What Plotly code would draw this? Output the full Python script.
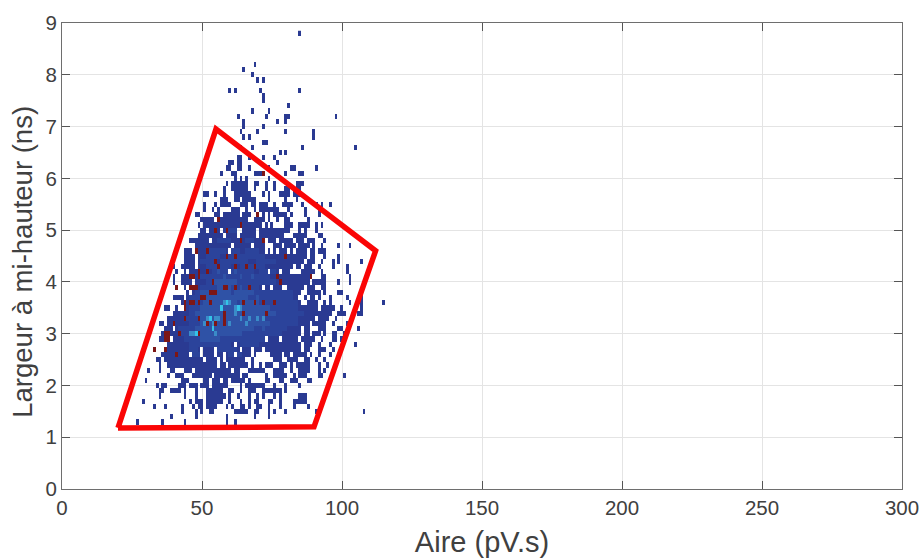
import plotly.graph_objects as go

X_BINS = list(range(20, 118))
Y_BINS = [8.8, 8.2, 8.1, 8.0, 7.9, 7.7, 7.6, 7.5, 7.4, 7.3, 7.2, 7.1, 7.0, 6.9, 6.8, 6.7, 6.6, 6.5, 6.4, 6.3,
          6.2, 6.1, 6.0, 5.9, 5.8, 5.7, 5.6, 5.5, 5.4, 5.3, 5.2, 5.1, 5.0, 4.9, 4.8, 4.7, 4.6, 4.5, 4.4, 4.3,
          4.2, 4.1, 4.0, 3.9, 3.8, 3.7, 3.6, 3.5, 3.4, 3.3, 3.2, 3.1, 3.0, 2.9, 2.8, 2.7, 2.6, 2.5, 2.4, 2.3,
          2.2, 2.1, 2.0, 1.9, 1.8, 1.7, 1.6, 1.5, 1.4, 1.3]
OCCUPIED = [
 "85", "69", "65", "68", "70 72", "60 62 71 85", "72", "72", "81", "68 74",
 "63 73 80-81 98", "65 77 80", "65 72", "64 70 80 90", "65 67 90", "72-73", "64 68 86 105", "78 80", "63-64 67 72 76", "60-61 63-64 77",
 "59-60 63-64 67 74 82-83 91", "57 61-62 69-72 80 85-86", "62 64 66 74", "59 61-66 69-70 73 76 84-86", "58 61-66 69 73 76 80-81 84-85",
 "51-52 55 58 62-67 72 74 78-81 83-85", "57-59 62-63 65-69 74 80 84", "51 55 57-60 64-66 68-69 71-73 76 79-82 86 91 93 96", "51 54 56 61-63 66 69 71-77 81 87 92", "48-49 55-56 58-63 65-67 70 72 74 76-80 82 87 92",
 "50-54 56-66 69-72 74 77-81 88", "49-73 75 78-82 85-88 91 93", "50-54 56-58 59-62 64-69 71-81 85 87 91", "49-57 59-62 64-80 83-87 92-93", "46-71 72 74-76 78-82 84-86 88-90 94",
 "48-49 50-60 62-72 74-83 85-88 90 93 99 103", "44-46 48-72 74-82 84-87 89-90 92-94", "44-47 49-87 89-90 94 99", "44-47 49-86 88-90 93 97 99 107", "40 43-47 49-65 67-85 87-89 92 97 102",
 "41 44 46-59 61-73 75-84 86-90 93 102", "40 43-88 89 93-94 103", "40 43-46 48-88 90-94 99 103", "41 44 46-71 73-74 76-78 81-86 88-90 93-94", "45 47-85 88-92 94 99-100",
 "40-43 45-84 87 89-90 92 96 102 107", "43-85 88-91 94 96 103 107 115", "37-38 41 44-91 93-97 100 107", "40-96 99-101 106-107", "38-90 92-95 98",
 "35-36 38-88 90-94 97 102", "37-39 41-85 87-88 92-94 99-100 106", "36-47 48-85 87-88 90-92 94 97-98 101", "35-38 40-72 74-77 79-84 86-90 93 97-98 100", "38-61 63-85 87-89 92 96 105",
 "33 37-49 51-54 56-63 65-67 69-71 73-85 87-88 92-94 97", "36-49 51-54 56-57 59-67 69-71 75-78 80-81 83-87 89 92 96", "34-35 37-57 59-65 68 72 76-78 81-84 87-88 91 94", "35 38-58 60-68 71-75 78-80 82 84-88 92 95", "31 35 39-40 44-46 48-60 62-64 67-72 76-79 82 85-88 92 94",
 "38 41-43 47-63 65-68 71-73 76-80 83 85-87 92-93 101", "30 43-45 48-52 54-65 67-74 78-79 82-84 88-89", "34 36-37 42-44 46-48 50-60 62-64 66-72 76 80 85", "35-36 39-42 44 48 52-57 60-61 64 67-69 72-74 75-78 80", "35 44 48 52-58 60 63 67 70 72 76 78 85-87",
 "29 46 48-50 52-57 60 64 67 69-70 74-75 78 83-84 85-87", "33 37 43 47 49-50 52-55 59 61 64-65 67 70-71 74 78 83 88", "43 48 50 53-54 62-66 69-70 74 76 80 91 108", "39 48 59 69 74", "27 36 44 59 62",
]
# empty cells read inside the dense part of the cloud
HOLE_Y = [5.2, 5.1, 5.0, 4.9, 4.8, 4.7, 4.6, 4.3, 4.2, 2.8, 2.6, 2.5, 2.4, 2.3, 2.2, 2.1, 2.0]
HOLE_SPANS = ["67 78-79", "50 72 74 76-79", "52 57 63-64", "70 80", "53", "68 74-75 79", "60 75 77 81", "69 83", "60 74 78 82-85",
              "62", "46 58 62 70-72", "51 56 69-72", "56 67 72", "64-66 73", "54 67-72", "48-50 57 60 68-72", "53 60-63"]

MID_Y = [5.0, 4.8, 4.6, 4.5, 4.4, 4.3, 4.2, 4.1, 4.0, 3.9, 3.8, 3.7, 3.6, 3.5, 3.4, 3.3, 3.2, 3.1, 3.0, 2.9, 2.8, 2.7, 2.6]
MID_SPANS = [
 "60-62", "56-60 66-68", "52-58 60-63 66-70", "52-56 60-72", "50-54 57-66 70-76", "52-60 64-72", "54-68 71-76", "50-74",
 "52-76", "50-56 60-70", "48-82", "46-82", "48-84", "46-84", "46-86", "44-84", "46-84", "42-80", "42-78", "44-72", "46-60 64-70", "46-48 56-62", "47-49 60-64",
]
LIGHT_Y = [4.2, 4.1, 4.0, 3.9, 3.8, 3.7, 3.6, 3.5, 3.4, 3.3, 3.2, 3.1, 3.0, 2.9]
LIGHT_SPANS = [
 "56 62", "58 64 68", "55-62", "56-60 64", "50-60 62-68", "52-66 70", "51-62 64-70", "50-74", "48-76", "50-72", "50-74", "48-68 72", "48-64", "50-56",
]
BRIGHT_X = [58, 60, 62, 64, 52, 55, 56, 64, 67, 70, 46, 47, 51, 52, 54, 55, 60, 66, 72, 62]
BRIGHT_Y = [3.6, 3.6, 3.5, 3.5, 3.3, 3.3, 3.3, 3.3, 3.3, 3.3, 3.0, 3.0, 3.2, 3.2, 3.2, 3.0, 3.2, 3.2, 3.3, 3.4]
CYAN_X = [59, 57, 63, 53, 54, 48]
CYAN_Y = [3.6, 3.5, 3.5, 3.3, 3.1, 3.0]
RED_X = [72, 70, 56, 64, 55, 59, 64, 72, 48, 52, 59, 62, 80, 55, 56, 62, 69, 49, 52, 46, 47, 49, 77, 89, 54, 78, 41, 46, 47, 48,
         58, 59, 62, 67, 53, 54, 55, 50, 51, 44, 46, 47, 49, 53, 65, 69, 72, 76, 44, 65, 73, 58, 44, 49, 58, 40, 52, 55, 58,
         37, 38, 42, 49, 37, 38, 33, 37, 41, 66]
RED_Y = [6.1, 5.3, 5.2, 5.1, 5.0, 5.0, 4.8, 4.8, 4.6, 4.6, 4.5, 4.5, 4.5, 4.4, 4.3, 4.3, 4.3, 4.2, 4.2, 4.1, 4.1, 4.1, 4.1, 4.1, 4.0, 4.0, 3.9, 3.9, 3.9, 3.9,
         3.9, 3.9, 3.9, 3.9, 3.8, 3.8, 3.8, 3.7, 3.7, 3.6, 3.6, 3.6, 3.6, 3.6, 3.6, 3.6, 3.6, 3.6, 3.5, 3.4, 3.4, 3.4, 3.3, 3.3, 3.3, 3.2, 3.2, 3.2, 3.2,
         3.0, 3.0, 3.0, 3.0, 2.9, 2.9, 2.7, 2.7, 2.6, 4.3]

POLY_X = [20, 90, 112, 55, 20]
POLY_Y = [1.18, 1.2, 4.6, 6.95, 1.18]

X_TICKS = [0, 50, 100, 150, 200, 250, 300]
Y_TICKS = [0, 1, 2, 3, 4, 5, 6, 7, 8, 9]
X_TITLE = "Aire (pV.s)"
Y_TITLE = "Largeur à mi-hauteur (ns)"


def expand(spec):
    out = []
    for part in spec.split():
        if "-" in part:
            a, b = part.split("-")
            out.extend(range(int(a), int(b) + 1))
        else:
            out.append(int(part))
    return out


rows = sorted(set(Y_BINS) | {8.7, 8.6, 8.5, 8.4, 8.3, 7.8, 1.2})
grid = {y: {} for y in rows}
for y, spec in zip(Y_BINS, OCCUPIED):
    for x in expand(spec):
        grid[y][x] = 1
for y, spec in zip(HOLE_Y, HOLE_SPANS):
    for x in expand(spec):
        grid[y].pop(x, None)
for level, ys, specs in ((2, MID_Y, MID_SPANS), (3, LIGHT_Y, LIGHT_SPANS)):
    for y, spec in zip(ys, specs):
        for x in expand(spec):
            if x in grid[y]:
                grid[y][x] = level
for level, xs, ys in ((4, BRIGHT_X, BRIGHT_Y), (5, CYAN_X, CYAN_Y), (6, RED_X, RED_Y)):
    for x, y in zip(xs, ys):
        grid[y][x] = level
z = [[grid[y].get(x) for x in X_BINS] for y in rows]

colors = ["#2a3a92", "#2b439b", "#2f52a6", "#3a8cc8", "#34c3e8", "#7d1616"]
scale = []
for i, c in enumerate(colors):
    scale += [[i / 6, c], [(i + 1) / 6, c]]

fig = go.Figure()
fig.add_trace(go.Heatmap(x=X_BINS, y=rows, z=z, zmin=0.5, zmax=6.5, colorscale=scale,
                         showscale=False, hoverongaps=False, xgap=0, ygap=0))
fig.add_trace(go.Scatter(x=POLY_X, y=POLY_Y, mode="lines", showlegend=False,
                         line=dict(color="#fa0505", width=5.5)))

font = dict(family="Liberation Sans, Arial, sans-serif", color="#404040")
axis = dict(showline=True, linecolor="#6e6e6e", linewidth=1, mirror="ticks", ticks="inside", ticklen=8,
            tickcolor="#555555", showgrid=True, gridcolor="#e4e4e4", gridwidth=1, zeroline=False,
            tickfont=dict(size=20.5, **font), layer="above traces", automargin=False)
fig.update_xaxes(range=[0, 300], tickvals=X_TICKS, ticklabeloverflow="allow",
                 title=dict(text=X_TITLE, font=dict(size=29, **font), standoff=15), **axis)
fig.update_yaxes(range=[0, 9], tickvals=Y_TICKS, **axis)
fig.add_annotation(text=Y_TITLE, textangle=-90, xref="paper", yref="paper", x=-0.048, y=0.487,
                   xanchor="center", yanchor="middle", showarrow=False, font=dict(size=27.5, **font))
fig.update_layout(width=923, height=558, margin=dict(l=62, r=21, t=23, b=69), paper_bgcolor="white",
                  plot_bgcolor="white", showlegend=False)
fig.write_html("out.html", post_script="document.body.style.margin='0';", config={"displayModeBar": False})
